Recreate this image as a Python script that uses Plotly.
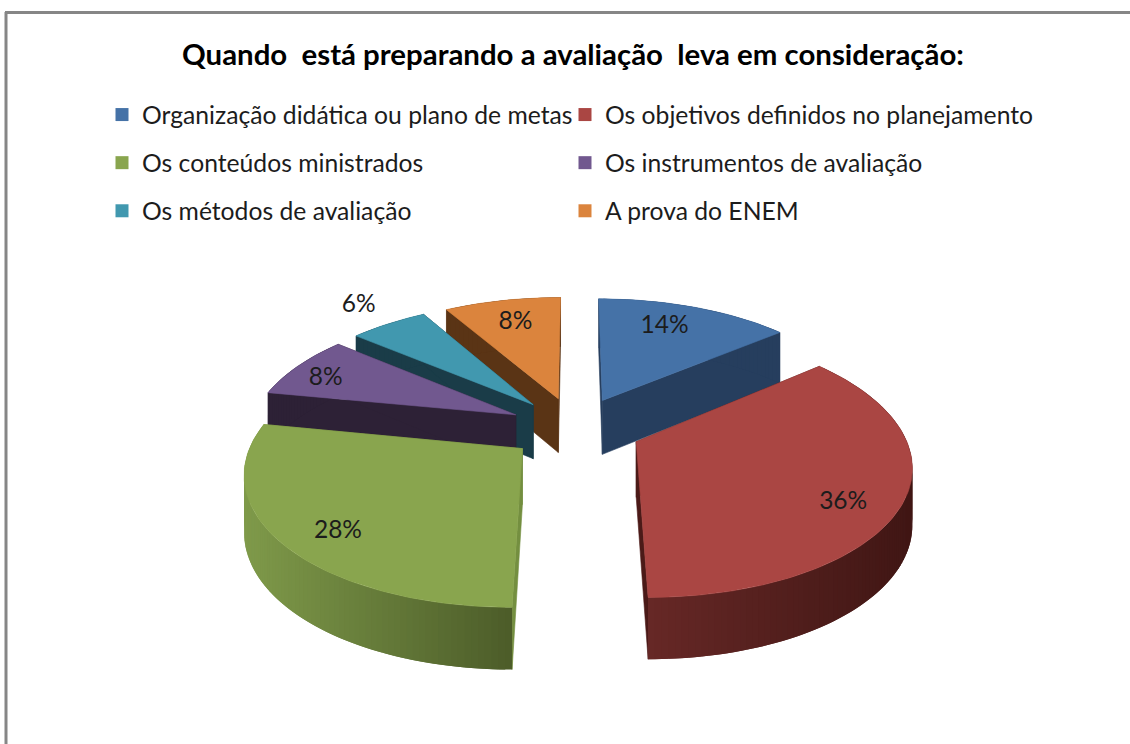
import math
import plotly.graph_objects as go

title = "Quando  está preparando a avaliação  leva em consideração:"
categories = ["Organização didática ou plano de metas", "Os objetivos definidos no planejamento",
              "Os conteúdos ministrados", "Os instrumentos de avaliação",
              "Os métodos de avaliação", "A prova do ENEM"]
shares = [14, 36, 28, 8, 5.6, 8.4]
top_colors = ["#4572A7", "#AA4643", "#89A54E", "#71588F", "#4198AF", "#DB843D"]
wall_colors = ["#263E5E", "#4B1A18", "#748F40", "#2D2136", "#1A3C48", "#5A3415"]
rim_left = ["#263E5E", "#662826", "#7F9A4A", "#2D2136", "#1A3C48", "#5A3415"]
rim_right = ["#263E5E", "#401614", "#4C5C29", "#2D2136", "#1A3C48", "#5A3415"]
label_radius = [0.70, 0.85, 0.90, 0.85, 1.17, 0.72]
label_nudge = [(-5, -6), (-18, 11), (30, -1), (-3, 6), (-8, -6), (-1, -3)]
draw_order = [5, 4, 0, 3, 2, 1]

CX, CY, FX, FY, K, DEPTH, EXPLODE = 575, 428, 266, 126, 0.16, 55, 0.25
FONT = "Lato"
TEXT = "#1c1c1c"


def project(X, Y, Z=0.0):
    s = 1 / (1 + K * Y)
    return CX + FX * X * s, CY - FY * Y * s + DEPTH * Z * s ** 0.6


def mix(a, b, t):
    ca = [int(a[i:i + 2], 16) for i in (1, 3, 5)]
    cb = [int(b[i:i + 2], 16) for i in (1, 3, 5)]
    return "#%02x%02x%02x" % tuple(round(p + (q - p) * t) for p, q in zip(ca, cb))


def poly(points, color, width=0.6):
    xs = [p[0] for p in points] + [points[0][0]]
    ys = [p[1] for p in points] + [points[0][1]]
    return go.Scatter(x=xs, y=ys, mode="lines", fill="toself", fillcolor=color,
                      line=dict(color=color, width=width), showlegend=False, hoverinfo="skip")


total = sum(shares)
starts, acc = [], 0
for v in shares:
    starts.append(acc / total * 2 * math.pi)
    acc += v

fig = go.Figure()
for i in draw_order:
    a0 = starts[i]
    a1 = a0 + shares[i] / total * 2 * math.pi
    mid = (a0 + a1) / 2
    ox, oy = EXPLODE * math.sin(mid), EXPLODE * math.cos(mid)
    n = max(12, int(shares[i] * 3))
    angles = [a0 + (a1 - a0) * j / n for j in range(n + 1)]
    rim = [(ox + math.sin(a), oy + math.cos(a)) for a in angles]
    # radial walls
    for (wx, wy) in (rim[0], rim[-1]):
        fig.add_trace(poly([project(ox, oy), project(wx, wy), project(wx, wy, 1), project(ox, oy, 1)], wall_colors[i]))
    # outer wall, shaded by screen position; each piece overlaps the next to avoid seams
    seg_x = [project(*p)[0] for p in rim]
    lo, hi = min(seg_x), max(seg_x)
    for j in range(n):
        t = ((seg_x[j] + seg_x[j + 1]) / 2 - lo) / max(hi - lo, 1)
        c = mix(rim_left[i], rim_right[i], t)
        p, q = rim[j], rim[min(j + 2, n)]
        m = rim[j + 1]
        fig.add_trace(poly([project(*p), project(*m), project(*q), project(*q, 1), project(*m, 1), project(*p, 1)], c, 0))
    # top face
    fig.add_trace(poly([project(ox, oy)] + [project(*p) for p in rim], top_colors[i]))

# percentage labels
lx, ly, lt = [], [], []
for i, v in enumerate(shares):
    mid = starts[i] + v / total * math.pi
    ox, oy = EXPLODE * math.sin(mid), EXPLODE * math.cos(mid)
    px, py = project(ox + label_radius[i] * math.sin(mid), oy + label_radius[i] * math.cos(mid))
    lx.append(px + label_nudge[i][0]); ly.append(py + label_nudge[i][1]); lt.append(f"{v:.0f}%")
fig.add_trace(go.Scatter(x=lx, y=ly, text=lt, mode="text", textposition="middle center",
                         textfont=dict(family=FONT, size=24.5, color=TEXT),
                         showlegend=False, hoverinfo="skip"))

# legend entries (two columns)
for i, name in enumerate(categories):
    fig.add_trace(go.Scatter(x=[None], y=[None], mode="markers", name=name,
                             legend="legend" if i % 2 == 0 else "legend2",
                             legendgroup=f"g{i}",
                             marker=dict(symbol="square", size=13, color=top_colors[i])))

leg = dict(orientation="v", xanchor="left", yanchor="top", y=1 - 92 / 744,
           font=dict(family=FONT, size=24.7, color=TEXT), bgcolor="rgba(0,0,0,0)",
           tracegroupgap=13, itemclick=False, itemdoubleclick=False, borderwidth=0)

fig.update_layout(
    width=1130, height=744, margin=dict(l=0, r=0, t=0, b=0),
    paper_bgcolor="white", plot_bgcolor="white",
    xaxis=dict(range=[0, 1130], visible=False, fixedrange=True),
    yaxis=dict(range=[744, 0], visible=False, fixedrange=True),
    legend=dict(leg, x=102 / 1130),
    legend2=dict(leg, x=565 / 1130),
    title=dict(text=f"<b>{title}</b>", x=573 / 1130, xanchor="center", y=1 - 55 / 744, yanchor="middle",
               font=dict(family=FONT, size=29.4, color="#000000")),
    shapes=[dict(type="line", xref="x", yref="y", x0=6, x1=6, y0=12, y1=744, line=dict(color="#868686", width=3)),
            dict(type="line", xref="x", yref="y", x0=5, x1=1130, y0=12.5, y1=12.5, line=dict(color="#868686", width=3))],
)
fig.write_html("out.html", config=dict(displayModeBar=False),
               post_script="document.body.style.margin='0';document.body.style.overflow='hidden';")
